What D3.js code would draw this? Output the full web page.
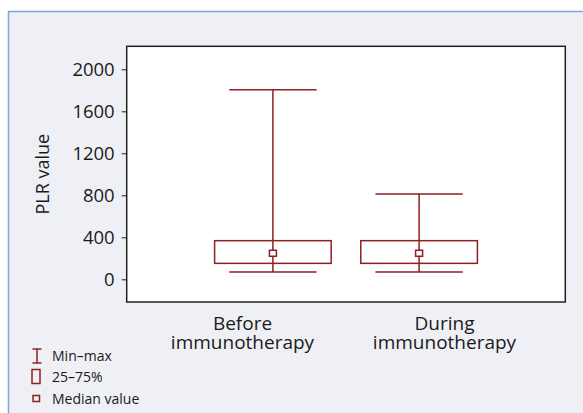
<!DOCTYPE html>
<html>
<head>
<meta charset="utf-8">
<script src="https://cdn.jsdelivr.net/npm/d3@7"></script>
<style>
  html, body { margin: 0; padding: 0; background: #ffffff; }
  svg { display: block; }
</style>
</head>
<body>
<script>
// chart values
const categories = ['Before\nimmunotherapy', 'During\nimmunotherapy'];
const minValues = [70, 70];
const q1Values = [152, 152];
const medianValues = [248, 248];
const q3Values = [368, 368];
const maxValues = [1806, 812];
const yTicks = [0, 400, 800, 1200, 1600, 2000];
const legendLabels = ['Min\u2013max', '25\u201375%', 'Median value'];

const WIDTH = 583;
const HEIGHT = 413;
const FONT = '"Open Sans", "Noto Sans", sans-serif';
const COLOR_MARK = '#8e1f22';
const COLOR_PANEL = '#eff0f6';
const COLOR_PANEL_STROKE = '#7fa6d8';
const COLOR_TEXT = '#1a1a1a';

const PLOT = { left: 126.7, right: 565.3, top: 46.3, bottom: 302 };
const BOX_WIDTH = 116.6;
const CAP_WIDTH = 87.4;

const boxes = categories.map((c, i) => ({
    cat: c,
    min: minValues[i],
    q1: q1Values[i],
    median: medianValues[i],
    q3: q3Values[i],
    max: maxValues[i]
}));

const svg = d3.select('body').append('svg')
    .attr('width', WIDTH)
    .attr('height', HEIGHT)
    .attr('viewBox', `0 0 ${WIDTH} ${HEIGHT}`);

// panel background
svg.append('rect')
    .attr('x', 8.5)
    .attr('y', 11.5)
    .attr('width', WIDTH + 10)
    .attr('height', HEIGHT + 10)
    .attr('fill', COLOR_PANEL)
    .attr('stroke', COLOR_PANEL_STROKE)
    .attr('stroke-width', 1.5);

const x = d3.scalePoint()
    .domain(categories)
    .range([PLOT.left, PLOT.right])
    .padding(1);

// the category labels sit off the box centres in the original
const xLabel = d3.scalePoint()
    .domain(categories)
    .range([242.5, 444.5]);

const y = d3.scaleLinear()
    .domain([-216, 2219])
    .range([PLOT.bottom, PLOT.top]);

// plot area
svg.append('rect')
    .attr('x', PLOT.left)
    .attr('y', PLOT.top)
    .attr('width', PLOT.right - PLOT.left)
    .attr('height', PLOT.bottom - PLOT.top)
    .attr('fill', '#ffffff')
    .attr('stroke', '#222222')
    .attr('stroke-width', 1.5);

// y axis
const yAxis = svg.append('g')
    .attr('transform', `translate(${PLOT.left},0)`)
    .call(d3.axisLeft(y).tickValues(yTicks).tickFormat(d3.format('d')).tickSize(5).tickPadding(7));
yAxis.select('.domain').remove();
yAxis.selectAll('line').attr('stroke', '#222222');
yAxis.selectAll('text')
    .attr('font-family', FONT)
    .attr('font-size', 18.5)
    .attr('fill', COLOR_TEXT);

svg.append('text')
    .attr('transform', `translate(49,${(PLOT.top + PLOT.bottom) / 2}) rotate(-90)`)
    .attr('text-anchor', 'middle')
    .attr('font-family', FONT)
    .attr('font-size', 18)
    .attr('fill', COLOR_TEXT)
    .text('PLR value');

// x labels
const xLabels = svg.append('g');
categories.forEach(c => {
    const t = xLabels.append('text')
        .attr('text-anchor', 'middle')
        .attr('font-family', FONT)
        .attr('font-size', 19)
        .attr('fill', COLOR_TEXT);
    c.split('\n').forEach((line, li) => {
        t.append('tspan')
            .attr('x', xLabel(c))
            .attr('y', 330 + li * 19)
            .text(line);
    });
});

// boxes
const g = svg.append('g')
    .attr('fill', 'none')
    .attr('stroke', COLOR_MARK)
    .attr('stroke-width', 1.5);

boxes.forEach(b => {
    const cx = x(b.cat);
    // whisker
    g.append('line')
        .attr('x1', cx).attr('x2', cx)
        .attr('y1', y(b.max)).attr('y2', y(b.min));
    g.append('line')
        .attr('x1', cx - CAP_WIDTH / 2).attr('x2', cx + CAP_WIDTH / 2)
        .attr('y1', y(b.max)).attr('y2', y(b.max));
    g.append('line')
        .attr('x1', cx - CAP_WIDTH / 2).attr('x2', cx + CAP_WIDTH / 2)
        .attr('y1', y(b.min)).attr('y2', y(b.min));
    // box
    g.append('rect')
        .attr('x', cx - BOX_WIDTH / 2)
        .attr('y', y(b.q3))
        .attr('width', BOX_WIDTH)
        .attr('height', y(b.q1) - y(b.q3))
        .attr('fill', '#ffffff');
    g.append('line')
        .attr('x1', cx).attr('x2', cx)
        .attr('y1', y(b.q3)).attr('y2', y(b.q1));
    // median
    g.append('rect')
        .attr('x', cx - 3.5)
        .attr('y', y(b.median) - 3)
        .attr('width', 7)
        .attr('height', 6)
        .attr('fill', '#ffffff');
});

// legend
const legend = svg.append('g');
const legendY = [356, 376.5, 398.5];
legendLabels.forEach((label, i) => {
    const ly = legendY[i];
    const ic = legend.append('g')
        .attr('fill', 'none')
        .attr('stroke', COLOR_MARK)
        .attr('stroke-width', 1.5);
    if (i === 0) {
        ic.append('line').attr('x1', 37).attr('x2', 37).attr('y1', ly - 7).attr('y2', ly + 7);
        ic.append('line').attr('x1', 32.5).attr('x2', 41.5).attr('y1', ly - 7).attr('y2', ly - 7);
        ic.append('line').attr('x1', 32.5).attr('x2', 41.5).attr('y1', ly + 7).attr('y2', ly + 7);
    } else if (i === 1) {
        ic.append('rect').attr('x', 32).attr('y', ly - 7).attr('width', 8).attr('height', 14);
    } else {
        ic.append('rect').attr('x', 33).attr('y', ly - 3).attr('width', 6.5).attr('height', 6);
    }
    legend.append('text')
        .attr('x', 52)
        .attr('y', ly + 5)
        .attr('font-family', FONT)
        .attr('font-size', 14)
        .attr('fill', COLOR_TEXT)
        .text(label);
});
</script>
</body>
</html>
